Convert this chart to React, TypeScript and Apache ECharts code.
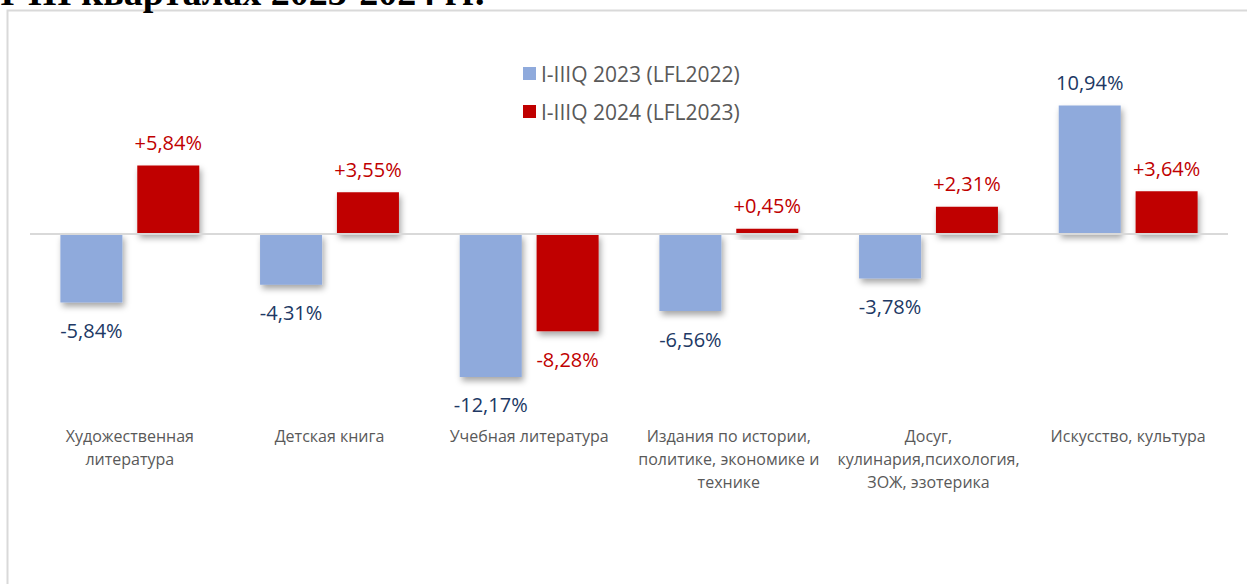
import React, { useEffect, useRef } from "react";
import * as echarts from "echarts";

const categories = [
  "Художественная\nлитература",
  "Детская книга",
  "Учебная литература",
  "Издания по истории,\nполитике, экономике и\nтехнике",
  "Досуг,\nкулинария,психология,\nЗОЖ, эзотерика",
  "Искусство, культура",
];
const seriesNames = ["I-IIIQ 2023 (LFL2022)", "I-IIIQ 2024 (LFL2023)"];
const values2023 = [-5.84, -4.31, -12.17, -6.56, -3.78, 10.94];
const values2024 = [5.84, 3.55, -8.28, 0.45, 2.31, 3.64];
const titleText = "I-III кварталах 2023-2024 гг.";

const BLUE = "#8FAADC";
const RED = "#C00000";
const NAVY = "#203864";
const FONT = "'Open Sans', 'Noto Sans', sans-serif";

function fmt(v: number, plus: boolean) {
  const s = Math.abs(v).toFixed(2).replace(".", ",");
  if (v < 0) return "-" + s + "%";
  return (plus ? "+" : "") + s + "%";
}

function buildData(values: number[]) {
  return values.map((v) => ({
    value: v,
    label: { position: v < 0 ? "bottom" : "top", distance: v < 0 ? 18 : 13 },
  }));
}

export default function App() {
  const ref = useRef<HTMLDivElement>(null);
  useEffect(() => {
    if (!ref.current) return;
    const chart = echarts.init(ref.current, null, { renderer: "svg" });
    const shadow = {
      shadowBlur: 6,
      shadowColor: "rgba(0,0,0,0.35)",
      shadowOffsetX: 2,
      shadowOffsetY: 4,
    };
    chart.setOption({
      animation: false,
      backgroundColor: "#ffffff",
      textStyle: { fontFamily: FONT },
      graphic: [
        {
          type: "rect",
          shape: { x: 7.5, y: 10.5, width: 1400, height: 800 },
          style: { fill: "none", stroke: "#d9d9d9", lineWidth: 2 },
          silent: true,
        },
        {
          type: "text",
          x: 0,
          y: -8,
          style: {
            text: titleText,
            font: "bold 38px 'Liberation Serif', 'Times New Roman', serif",
            fill: "#000000",
            verticalAlign: "middle",
          },
          silent: true,
        },
      ],
      legend: {
        orient: "vertical",
        left: 518,
        top: 58,
        itemWidth: 13,
        itemHeight: 13,
        itemGap: 17,
        icon: "rect",
        textStyle: { color: "#595959", fontSize: 21, fontFamily: FONT },
        data: seriesNames,
      },
      grid: { left: 30, right: 19, top: 46, bottom: 162, containLabel: false },
      xAxis: {
        type: "category",
        data: categories,
        axisLine: { show: false, onZero: false },
        axisTick: { show: false },
        axisLabel: {
          interval: 0,
          color: "#595959",
          fontSize: 16,
          lineHeight: 23,
          margin: 2,
          fontFamily: FONT,
        },
      },
      yAxis: {
        type: "value",
        min: -16,
        max: 16,
        show: false,
        splitLine: { show: false },
      },
      series: [
        {
          name: seriesNames[0],
          type: "bar",
          data: buildData(values2023),
          barWidth: 62,
          barGap: "24%",
          itemStyle: { color: BLUE, ...shadow },
          label: {
            show: true,
            color: NAVY,
            fontSize: 20,
            fontFamily: FONT,
            formatter: (p: any) => fmt(p.value, false),
          },
          markLine: {
            silent: true,
            symbol: "none",
            label: { show: false },
            lineStyle: { color: "#d9d9d9", width: 2, type: "solid" },
            data: [{ yAxis: 0 }],
          },
        },
        {
          name: seriesNames[1],
          type: "bar",
          data: buildData(values2024),
          barWidth: 62,
          barGap: "24%",
          itemStyle: { color: RED, ...shadow },
          label: {
            show: true,
            color: RED,
            fontSize: 20,
            fontFamily: FONT,
            formatter: (p: any) => fmt(p.value, true),
          },
        },
      ],
    });
    return () => chart.dispose();
  }, []);
  return (
    <div
      ref={ref}
      style={{ position: "fixed", left: 0, top: 0, width: 1247, height: 584 }}
    />
  );
}
